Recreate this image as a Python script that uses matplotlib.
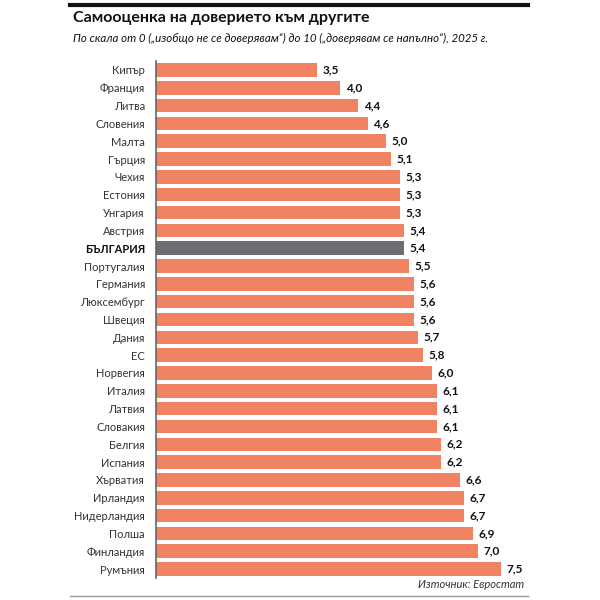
import matplotlib
matplotlib.use("Agg")
import matplotlib.pyplot as plt
from matplotlib.lines import Line2D

countries = ["Кипър","Франция","Литва","Словения","Малта","Гърция","Чехия","Естония","Унгария","Австрия",
             "БЪЛГАРИЯ","Португалия","Германия","Люксембург","Швеция","Дания","ЕС","Норвегия","Италия","Латвия",
             "Словакия","Белгия","Испания","Хърватия","Ирландия","Нидерландия","Полша","Финландия","Румъния"]
values = [3.5,4.0,4.4,4.6,5.0,5.1,5.3,5.3,5.3,5.4,5.4,5.5,5.6,5.6,5.6,5.7,5.8,6.0,6.1,6.1,6.1,6.2,6.2,6.6,6.7,6.7,6.9,7.0,7.5]

plt.rcParams['font.family'] = ['Lato', 'DejaVu Sans']
fig = plt.figure(figsize=(6, 6), dpi=100)
W = H = 600
ax = fig.add_axes([156/W, 1-578/H, (530-156)/W, (578-61)/H])
colors = ["#6d6e71" if c == "БЪЛГАРИЯ" else "#f08262" for c in countries]
y = range(len(countries))
ax.barh(y, values, height=0.76, color=colors)
ax.set_ylim(len(countries)-0.5, -0.5)
ax.set_xlim(0, (530-156)/46)
ax.set_yticks(list(y))
ax.set_yticklabels(countries, fontsize=8, color="#333333")
for lbl in ax.get_yticklabels():
    if lbl.get_text() == "БЪЛГАРИЯ":
        lbl.set_fontweight("bold"); lbl.set_color("#111111")
ax.tick_params(axis='y', length=0, pad=8)
ax.set_xticks([])
for s in ["top", "right", "bottom"]:
    ax.spines[s].set_visible(False)
ax.spines["left"].set_color("#666666")
ax.spines["left"].set_linewidth(1.2)
for i, v in enumerate(values):
    ax.text(v + 0.12, i, f"{v:.1f}".replace(".", ","), va="center", ha="left",
            fontsize=8.5, fontweight="bold", color="#111111")

fig.add_artist(Line2D([70/W, 528/W], [1-5/H, 1-5/H], color="#111111", lw=3))
fig.add_artist(Line2D([70/W, 528/W], [1-596/H, 1-596/H], color="#999999", lw=1))
fig.text(73/W, 1-18/H, "Самооценка на доверието към другите", fontsize=11.5, fontweight="bold",
         va="center", ha="left", color="#111111")
fig.text(73/W, 1-38/H, "По скала от 0 („изобщо не се доверявам“) до 10 („доверявам се напълно“), 2025 г.",
         fontsize=8.3, style="italic", va="center", ha="left", color="#111111")
fig.text(524/W, 1-585/H, "Източник: Евростат", fontsize=8, style="italic", va="center", ha="right",
         color="#333333")
fig.savefig("out.png", dpi=100)
